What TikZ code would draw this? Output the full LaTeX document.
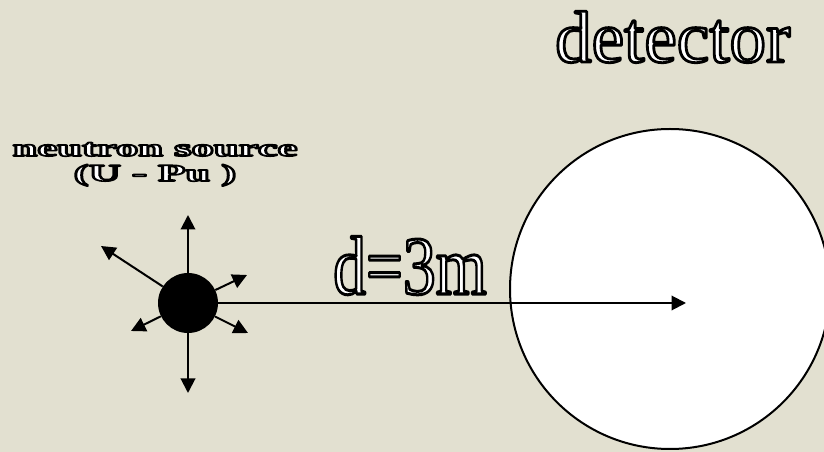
\documentclass[tikz,border=0pt]{standalone}
\usepackage{fontspec}
\setmainfont{Liberation Serif}
\usepackage{graphicx}
\usetikzlibrary{arrows.meta}
\definecolor{bg}{RGB}{226,224,208}
\newcommand{\hollowtext}[2]{{\color{white}\special{pdf:literal direct 0 G #1 w 1 j 2 Tr}#2\special{pdf:literal direct 0 Tr}}}
\begin{document}
\begin{tikzpicture}[x=1pt,y=1pt,
  ray/.style={line width=2pt, -{Triangle[length=14.5pt,width=14.5pt]}},
  lbl/.style={inner sep=0pt}]
\useasboundingbox (0,0) rectangle (824,452);
\fill[bg] (0,0) rectangle (824,452);
\clip (0,0) rectangle (824,452);
% detector
\node[circle, draw=black, line width=2pt, fill=white, minimum size=320pt, inner sep=0pt] (det) at (670,163) {};
\coordinate (dtip) at (686,149);
% source
\node[circle, fill=black, minimum size=60pt, inner sep=0pt] (src) at (188,149) {};
\coordinate (tu) at (188,237);
\coordinate (td) at (188,59);
\coordinate (tul) at (101,206);
\coordinate (tur) at (247,177);
\coordinate (tdl) at (131,121);
\coordinate (tdr) at (248,119);
\draw[ray] (src) -- (dtip);
\draw[ray] (src) -- (tu);
\draw[ray] (src) -- (td);
\draw[ray] (src) -- (tul);
\draw[ray] (src) -- (tur);
\draw[ray] (src) -- (tdl);
\draw[ray] (src) -- (tdr);
% texts
\node[lbl, anchor=base west] (ttl) at (555,390) {\fontsize{73}{73}\selectfont\hollowtext{2.8}{detector}};
\node[lbl, anchor=base west] (dist) at (333,158) {\scalebox{0.79}[1]{\fontsize{83}{83}\selectfont\hollowtext{3}{d=3m}}};
\node[lbl, anchor=base] (ns) at (155,296) {\scalebox{1.86}[1]{\fontsize{24}{24}\selectfont\bfseries\hollowtext{1.6}{neutron source}}};
\node[lbl, anchor=base] (upu) at (155,271) {\scalebox{1.86}[1]{\fontsize{24}{24}\selectfont\bfseries\hollowtext{1.6}{(U - Pu )}}};
\end{tikzpicture}
\end{document}
